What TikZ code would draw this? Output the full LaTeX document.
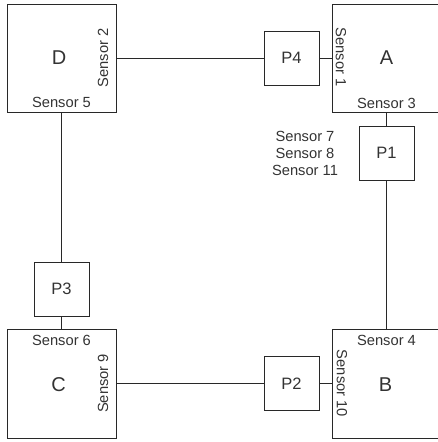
\documentclass[tikz,border=0pt]{standalone}
\usepackage{fontspec}
\setmainfont{Liberation Sans}
\usetikzlibrary{positioning,calc}
\definecolor{ln}{RGB}{40,40,40}
\definecolor{tx}{RGB}{51,51,51}
\tikzset{room/.style={draw=ln,line width=1pt,minimum width=109pt,minimum height=108pt,inner sep=0pt},
 pbox/.style={draw=ln,line width=1pt,minimum width=55pt,minimum height=54pt,inner sep=0pt,font=\fontsize{16.5}{20}\selectfont,text=tx},
 big/.style={inner sep=0pt,font=\fontsize{20}{24}\selectfont,text=tx},
 sens/.style={inner sep=0pt,font=\fontsize{14.7}{17}\selectfont,text=tx},
 wire/.style={draw=ln,line width=1pt}}
\begin{document}
\begin{tikzpicture}[x=1pt,y=-1pt]
\useasboundingbox (0,0) rectangle (438,442);
\clip (0,0) rectangle (438,442);
\node[room] (D) at (61.5,58) {};
\node[room] (A) at (386.5,58) {};
\node[room,minimum height=109pt] (C) at (61.5,383.5) {};
\node[room,minimum height=109pt] (B) at (386.5,383.5) {};
\node[pbox] (P4) at (291.5,58) {P4};
\node[pbox] (P1) at (386.5,153) {P1};
\node[pbox] (P3) at (61.5,289) {P3};
\node[pbox] (P2) at (291.5,383.5) {P2};
\draw[wire] (D.east) -- (P4.west);\draw[wire] (P4.east) -- (A.west);
\draw[wire] (A.south) -- (P1.north);\draw[wire] (P1.south) -- (B.north);
\draw[wire] (D.south) -- (P3.north);\draw[wire] (P3.south) -- (C.north);
\draw[wire] (C.east) -- (P2.west);\draw[wire] (P2.east) -- (B.west);
\node[big] (Dt) at ($(D.center)+(-2.5,-0.5)$) {D};
\node[big] (At) at ($(A.center)+(0,0)$) {A};
\node[big] (Ct) at ($(C.center)+(-3,1)$) {C};
\node[big] (Bt) at ($(B.center)+(-1,1)$) {B};
\node[sens,rotate=90,anchor=south] (s2) at ($(D.east)+(-8,0)$) {Sensor 2};
\node[sens,above=4.5pt of D.south] (s5) {Sensor 5};
\node[sens,rotate=-90,anchor=south] (s1) at ($(A.west)+(4,-1)$) {Sensor 1};
\node[sens,above=4pt of A.south] (s3) {Sensor 3};
\node[sens,below=7pt of C.north] (s6) {Sensor 6};
\node[sens,rotate=90,anchor=south] (s9) at ($(C.east)+(-8,0)$) {Sensor 9};
\node[sens,below=6.5pt of B.north] (s4) {Sensor 4};
\node[sens,rotate=-90,anchor=south] (s10) at ($(B.west)+(5,0)$) {Sensor 10};
\node[sens,align=center] (s7) at (305,153) {Sensor 7\\Sensor 8\\Sensor 11};
\end{tikzpicture}
\end{document}
